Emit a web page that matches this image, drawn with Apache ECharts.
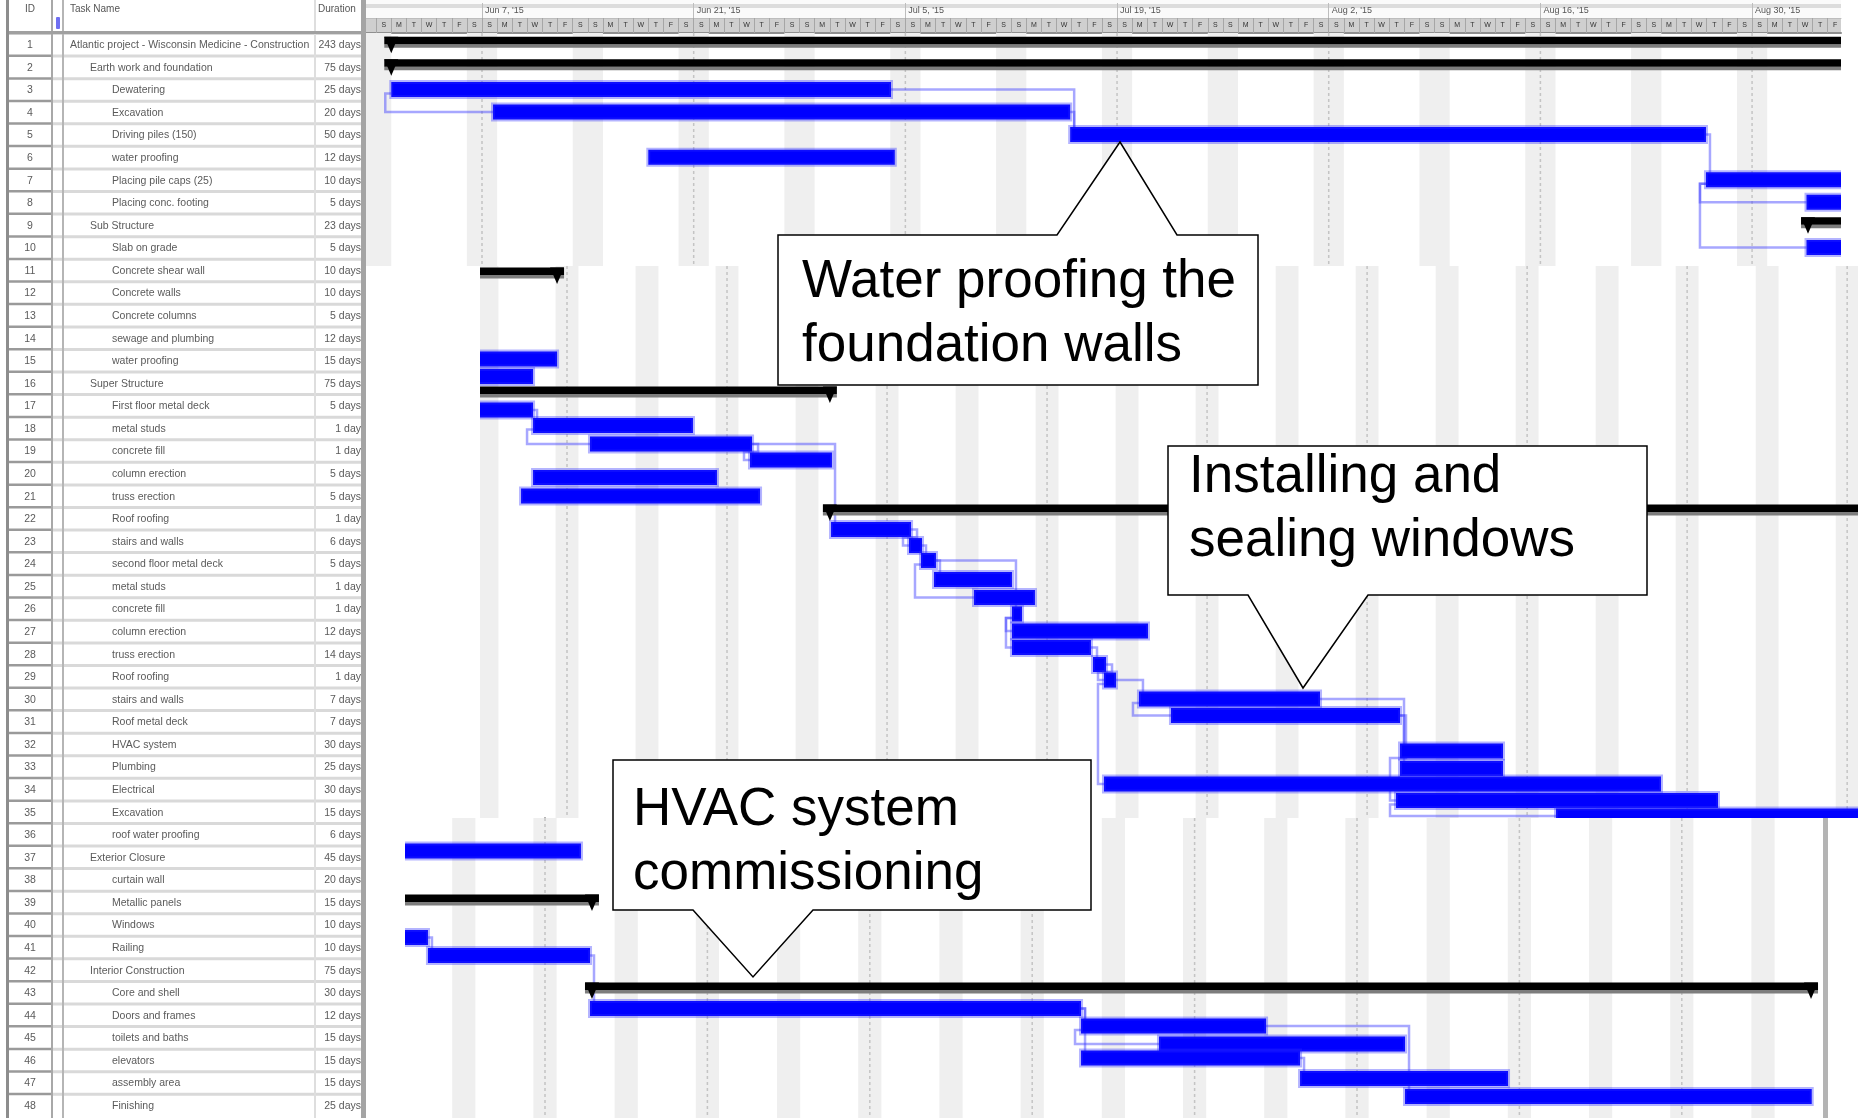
<!DOCTYPE html>
<html>
<head>
<meta charset="utf-8">
<title>Atlantic project - Gantt</title>
<script src="https://cdn.jsdelivr.net/npm/echarts@6/dist/echarts.min.js"></script>
<style>
html,body{margin:0;padding:0;background:#fff}
#chart{width:1858px;height:1118px}
</style>
</head>
<body>
<div id="chart"></div>
<script>
// ---- task table ----
var taskIds = ['1','2','3','4','5','6','7','8','9','10','11','12','13','14','15','16','17','18','19','20',
  '21','22','23','24','25','26','27','28','29','30','31','32','33','34','35','36','37','38','39','40',
  '41','42','43','44','45','46','47','48'];
var taskNames = ['Atlantic project - Wisconsin Medicine - Construction','Earth work and foundation','Dewatering','Excavation',
  'Driving piles (150)','water proofing','Placing pile caps (25)','Placing conc. footing','Sub Structure','Slab on grade',
  'Concrete shear wall','Concrete walls','Concrete columns','sewage and plumbing','water proofing','Super Structure',
  'First floor metal deck','metal studs','concrete fill','column erection','truss erection','Roof roofing',
  'stairs and walls','second floor metal deck','metal studs','concrete fill','column erection','truss erection',
  'Roof roofing','stairs and walls','Roof metal deck','HVAC system','Plumbing','Electrical','Excavation',
  'roof water proofing','Exterior Closure','curtain wall','Metallic panels','Windows','Railing',
  'Interior Construction','Core and shell','Doors and frames','toilets and baths','elevators','assembly area','Finishing'];
var taskLevels = [0,1,2,2,2,2,2,2,1,2,2,2,2,2,2,1,2,2,2,2,2,2,2,2,2,2,2,2,2,2,2,2,2,2,2,2,1,2,2,2,2,1,2,2,2,2,2,2];
var taskDurations = ['243 days','75 days','25 days','20 days','50 days','12 days','10 days','5 days','23 days','5 days',
  '10 days','10 days','5 days','12 days','15 days','75 days','5 days','1 day','1 day','5 days','5 days','1 day',
  '6 days','5 days','1 day','1 day','12 days','14 days','1 day','7 days','7 days','30 days','25 days','30 days',
  '15 days','6 days','45 days','20 days','15 days','10 days','10 days','75 days','30 days','12 days','15 days',
  '15 days','15 days','25 days'];

// ---- timescale header (top pane, day 0 = Sun Jun 7 2015) ----
var headerWeeks = [0, 14, 28, 42, 56, 70, 84];
var dayLetters = ['S','M','T','W','T','F','S'];
var monthNames = ['Jan','Feb','Mar','Apr','May','Jun','Jul','Aug','Sep','Oct','Nov','Dec'];

// ---- bars: [start day, end day, row position] ----
var topBars = [
  [-6.0, 27.05, 2.5], [0.73, 38.9, 3.5], [38.9, 80.95, 4.5], [11.0, 27.3, 5.5],
  [80.95, 95, 6.5], [87.6, 95, 7.5], [87.6, 95, 9.5]
];
var topSummaries = [[-6.0, 95, 0.36], [-6.0, 95, 1.36], [87.7, 95, 8.36]];
var topLinks = [[0,1,'SS'],[0,2,'FS'],[1,2,'FS'],[2,4,'FS'],[4,5,'SS'],[4,6,'SS']];

var midBars = [
  [-9, -0.87, 14.44], [-9, -2.97, 15.22], [-9, -2.97, 16.70], [-2.97, 11.02, 17.39],
  [2.01, 16.19, 18.21], [16.01, 23.18, 18.92], [-2.97, 13.12, 19.69], [-4.02, 16.89, 20.51],
  [23.1, 30.1, 22.0], [29.92, 31.06, 22.71], [30.97, 32.28, 23.37], [32.11, 38.93, 24.21],
  [35.61, 40.94, 25.01], [38.93, 39.81, 25.74], [38.93, 50.83, 26.5], [38.93, 45.84, 27.23],
  [46.02, 47.16, 27.98], [46.98, 48.03, 28.67], [50.04, 65.88, 29.51], [52.84, 72.88, 30.24],
  [72.88, 81.89, 31.81], [72.88, 81.89, 32.59], [46.98, 95.71, 33.27], [72.53, 100.7, 34.0],
  [86.53, 118, 34.69]
];
var midSummaries = [[-9, -0.87, 10.59], [-9, 23.0, 15.86], [23.0, 118, 21.09]];
var midLinks = [[2,3,'FS'],[3,4,'SS'],[4,5,'FS'],[4,8,'FS'],[8,9,'FS'],[9,10,'FS'],[10,11,'FS'],
  [10,12,'SS'],[10,13,'FS'],[13,14,'SS'],[13,15,'SS'],[15,16,'FS'],[16,17,'FS'],[17,18,'FS'],
  [17,22,'SS'],[18,19,'SS'],[18,20,'FS'],[19,21,'FS'],[19,23,'FS'],[23,24,'SS']];

var lowBars = [
  [-13, 3.10, 36.24], [-13, -10.09, 40.08], [-10.09, 3.88, 40.87], [3.88, 46.21, 43.22],
  [46.21, 62.16, 44.0], [52.93, 74.14, 44.79], [46.21, 65.09, 45.41], [65.09, 83.02, 46.32],
  [74.14, 109.2, 47.12]
];
var lowSummaries = [[-14, 4.05, 38.37], [4.05, 109.14, 42.27]];
var lowLinks = [[1,2,'FS'],[2,3,'FS'],[3,4,'FS'],[3,6,'FS'],[4,5,'SS'],[4,8,'FS'],[6,7,'FS']];

// ---- callouts ----
var callouts = [
  {text:'Water proofing the\nfoundation walls', pts:[[778,235],[1057,235],[1120,142],[1177,235],[1258,235],[1258,385],[778,385]], tx:802, ty:250},
  {text:'Installing and\nsealing windows', pts:[[1168,446],[1647,446],[1647,595],[1368,595],[1303,688],[1248,595],[1168,595]], tx:1189, ty:445},
  {text:'HVAC system\ncommissioning', pts:[[613,760],[1091,760],[1091,910],[813,910],[753,977],[693,910],[613,910]], tx:633, ty:778}
];

var FONT = '"Liberation Sans", Arial, sans-serif';
var ROW_H = 22.57, ROWS_TOP = 33;

var panes = [
  {left:366, right:1841, top:33, bottom:266, ppd:15.12, sunday:482, bars:topBars, sums:topSummaries, links:topLinks, xi:1, yi:1},
  {left:480, right:1858, top:266, bottom:818, ppd:11.43, sunday:567, bars:midBars, sums:midSummaries, links:midLinks, xi:3, yi:2},
  {left:405, right:1825, top:818, bottom:1118, ppd:11.6, sunday:545, bars:lowBars, sums:lowSummaries, links:lowLinks, xi:4, yi:3}
];
panes.forEach(function (p) {
  p.xMin = (p.left - p.sunday) / p.ppd;
  p.xMax = (p.right - p.sunday) / p.ppd;
  p.yMin = (p.top - ROWS_TOP) / ROW_H;
  p.yMax = (p.bottom - ROWS_TOP) / ROW_H;
});

var chart = echarts.init(document.getElementById('chart'), null, {renderer: 'canvas'});

var grids = [{left: 9, top: ROWS_TOP, width: 353, height: ROW_H * 48}];
panes.forEach(function (p) {
  grids.push({left: p.left, top: p.top, width: p.right - p.left, height: p.bottom - p.top});
});

var dayTicks = [], dayCenters = [];
for (var d = Math.ceil(panes[0].xMin); d <= Math.floor(panes[0].xMax); d++) {
  dayTicks.push(d);
  if (d + 0.5 < panes[0].xMax) dayCenters.push(d + 0.5);
}

function weekLabel(v) {
  var dt = new Date(2015, 5, 7 + Math.round(v));
  return monthNames[dt.getMonth()] + ' ' + dt.getDate() + ", '15";
}

var hidden = {show: false};
var xAxes = [
  {gridIndex: 0, type: 'value', min: 0, max: 353, show: false},
  {gridIndex: 1, type: 'value', position: 'top', min: panes[0].xMin, max: panes[0].xMax,
    axisLine: {show: true, lineStyle: {color: '#8f8f8f', width: 2}},
    axisTick: {show: true, customValues: dayTicks, length: 15, lineStyle: {color: '#a6a6a6'}},
    axisLabel: {customValues: dayCenters, margin: 4, fontSize: 7, color: '#333', fontFamily: FONT,
      formatter: function (v) { return dayLetters[((Math.floor(v) % 7) + 7) % 7]; }},
    splitLine: hidden},
  {gridIndex: 1, type: 'value', position: 'top', offset: 15, min: panes[0].xMin, max: panes[0].xMax,
    axisLine: {show: true, lineStyle: {color: '#bdbdbd', width: 1}},
    axisTick: {show: true, customValues: headerWeeks, length: 15, lineStyle: {color: '#bdbdbd'}},
    axisLabel: {customValues: headerWeeks, align: 'left', margin: 3, fontSize: 9, color: '#555',
      fontFamily: FONT, padding: [0, 0, 0, 3], formatter: weekLabel},
    splitLine: hidden},
  {gridIndex: 2, type: 'value', min: panes[1].xMin, max: panes[1].xMax, show: false},
  {gridIndex: 3, type: 'value', min: panes[2].xMin, max: panes[2].xMax, show: false}
];
var yAxes = [
  {gridIndex: 0, type: 'category', data: taskIds, inverse: true, show: false},
  {gridIndex: 1, type: 'value', inverse: true, min: panes[0].yMin, max: panes[0].yMax, position: 'right',
    axisLine: {show: true, lineStyle: {color: '#b0b0b0', width: 2}}, axisTick: hidden, axisLabel: hidden, splitLine: hidden},
  {gridIndex: 2, type: 'value', inverse: true, min: panes[1].yMin, max: panes[1].yMax, show: false},
  {gridIndex: 3, type: 'value', inverse: true, min: panes[2].yMin, max: panes[2].yMax, position: 'left',
    axisLine: {show: true, lineStyle: {color: '#9c9c9c', width: 2}}, axisTick: hidden, axisLabel: hidden, splitLine: hidden},
  {gridIndex: 3, type: 'value', inverse: true, min: panes[2].yMin, max: panes[2].yMax, position: 'right',
    axisLine: {show: true, lineStyle: {color: '#b4b4b4', width: 5}}, axisTick: hidden, axisLabel: hidden, splitLine: hidden}
];

var series = [];

// table rows
series.push({
  type: 'custom', xAxisIndex: 0, yAxisIndex: 0, z: 3,
  data: taskIds.map(function (id, i) { return [0, i]; }),
  encode: {x: 0, y: 1},
  renderItem: function (params, api) {
    var i = params.dataIndex;
    var cy = api.coord([0, i])[1];
    var h = api.size([0, 1])[1];
    var top = cy - h / 2;
    var x0 = params.coordSys.x;
    var indent = [61, 81, 103][taskLevels[i]];
    var txt = {fontSize: 10.5, fontFamily: FONT, fill: '#5a5a5a', verticalAlign: 'middle'};
    return {type: 'group', children: [
      {type: 'rect', shape: {x: x0, y: top - 1, width: 43, height: 2.5}, style: {fill: '#9a9a9a'}},
      {type: 'rect', shape: {x: x0 + 43, y: top - 1, width: 310, height: 3}, style: {fill: '#d9d9d9'}},
      {type: 'text', style: Object.assign({x: x0 + 21, y: cy + 1, text: taskIds[i], align: 'center'}, txt)},
      {type: 'text', style: Object.assign({x: x0 + indent, y: cy + 1, text: taskNames[i], align: 'left',
        width: 305 - indent, overflow: 'truncate', ellipsis: ''}, txt)},
      {type: 'text', style: Object.assign({x: x0 + 352, y: cy + 1, text: taskDurations[i], align: 'right'}, txt)}
    ]};
  }
});

function barRender(params, api) {
  var a = api.coord([api.value(0), api.value(2)]);
  var b = api.coord([api.value(1), api.value(2)]);
  return {type: 'rect', shape: {x: a[0], y: a[1] - 7.5, width: b[0] - a[0], height: 15},
    style: {fill: '#0000ff', stroke: 'rgba(40,40,255,0.35)', lineWidth: 4}};
}

function summaryRender(params, api) {
  var a = api.coord([api.value(0), api.value(2)]);
  var b = api.coord([api.value(1), api.value(2)]);
  var y = a[1];
  var w = b[0] - a[0] + 14;
  return {type: 'group', children: [
    {type: 'rect', shape: {x: a[0] - 7, y: y + 3, width: w, height: 3.5}, style: {fill: '#7d7d7d'}},
    {type: 'rect', shape: {x: a[0] - 7, y: y - 4.5, width: w, height: 7.5}, style: {fill: '#000'}},
    {type: 'polygon', shape: {points: [[a[0] - 7, y - 4.5], [a[0] + 7, y - 4.5], [a[0], y + 12]]}, style: {fill: '#000'}},
    {type: 'polygon', shape: {points: [[b[0] - 7, y - 4.5], [b[0] + 7, y - 4.5], [b[0], y + 12]]}, style: {fill: '#000'}}
  ]};
}

function linkRender(p) {
  return function (params, api) {
    var l = p.links[params.dataIndex];
    var A = p.bars[l[0]], B = p.bars[l[1]];
    var a0 = api.coord([A[0], A[2]]), a1 = api.coord([A[1], A[2]]), b0 = api.coord([B[0], B[2]]);
    var pts;
    if (l[2] === 'SS') {
      var xs = Math.min(a0[0], b0[0]) - 6;
      pts = [[a0[0], a0[1] + 4], [xs, a0[1] + 4], [xs, b0[1]], [b0[0], b0[1]]];
    } else if (b0[0] >= a1[0] - 2) {
      var xf = Math.max(a1[0], b0[0]) + 4;
      pts = [[a1[0], a1[1]], [xf, a1[1]], [xf, b0[1] - 7]];
    } else {
      var mid = (a1[1] + b0[1]) / 2;
      pts = [[a1[0], a1[1]], [a1[0] + 6, a1[1]], [a1[0] + 6, mid], [b0[0] - 6, mid], [b0[0] - 6, b0[1]], [b0[0], b0[1]]];
    }
    return {type: 'polyline', shape: {points: pts}, style: {stroke: 'rgba(60,60,255,0.45)', lineWidth: 2.5, fill: null}};
  };
}

panes.forEach(function (p) {
  var weekends = [], fortnights = [];
  for (var s = Math.floor((p.xMin + 1) / 7) * 7 - 1; s < p.xMax; s += 7) weekends.push([s]);
  for (var f = Math.ceil(p.xMin / 14) * 14; f < p.xMax; f += 14) fortnights.push([f]);
  var ax = {xAxisIndex: p.xi, yAxisIndex: p.yi, clip: true, silent: true};

  series.push(Object.assign({type: 'custom', z: 1, data: weekends, encode: {x: 0},
    renderItem: function (params, api) {
      var a = api.coord([api.value(0), p.yMin]);
      var b = api.coord([api.value(0) + 2, p.yMin]);
      var cs = params.coordSys;
      return {type: 'rect', shape: {x: a[0], y: cs.y, width: b[0] - a[0], height: cs.height}, style: {fill: '#efefef'}};
    }}, ax));
  series.push(Object.assign({type: 'custom', z: 1, data: fortnights, encode: {x: 0},
    renderItem: function (params, api) {
      var a = api.coord([api.value(0), p.yMin]);
      var cs = params.coordSys;
      return {type: 'line', shape: {x1: a[0], y1: cs.y, x2: a[0], y2: cs.y + cs.height},
        style: {stroke: '#c4c4c4', lineWidth: 1.5, lineDash: [3, 3]}};
    }}, ax));
  series.push(Object.assign({type: 'custom', z: 2, data: p.links.map(function (l) { return [l[0], l[1]]; }),
    encode: {x: 0, y: 1}, renderItem: linkRender(p)}, ax));
  series.push(Object.assign({type: 'custom', z: 3, data: p.bars, encode: {x: [0, 1], y: 2}, renderItem: barRender}, ax));
  series.push(Object.assign({type: 'custom', z: 4, data: p.sums, encode: {x: [0, 1], y: 2}, renderItem: summaryRender}, ax));
});

// table frame, header and callouts
var graphics = [
  {type: 'rect', shape: {x: 366, y: 0, width: 1475, height: 18}, style: {fill: '#fafafa'}, z: -1},
  {type: 'rect', shape: {x: 366, y: 4, width: 1475, height: 4}, style: {fill: '#dcdcdc'}, z: -1},
  {type: 'rect', shape: {x: 366, y: 18, width: 1475, height: 15}, style: {fill: '#cfcfcf'}, z: -1},
  {type: 'rect', shape: {x: 6, y: 0, width: 3, height: 1118}, style: {fill: '#8d8d8d'}, z: 10},
  {type: 'rect', shape: {x: 51, y: 0, width: 2, height: 1118}, style: {fill: '#a8a8a8'}, z: 10},
  {type: 'rect', shape: {x: 62, y: 0, width: 2, height: 1118}, style: {fill: '#b5b5b5'}, z: 10},
  {type: 'rect', shape: {x: 314, y: 0, width: 2, height: 1118}, style: {fill: '#dedede'}, z: 10},
  {type: 'rect', shape: {x: 361, y: 0, width: 5, height: 1118}, style: {fill: '#a4a4a4'}, z: 10},
  {type: 'rect', shape: {x: 9, y: 31, width: 352, height: 3}, style: {fill: '#a0a0a0'}, z: 10},
  {type: 'rect', shape: {x: 56, y: 17, width: 4, height: 12, r: 1}, style: {fill: '#6f6ff2'}, z: 10},
  {type: 'text', x: 30, y: 4, style: {text: 'ID', fontSize: 10, fontFamily: FONT, fill: '#555', align: 'center', verticalAlign: 'top'}, z: 10},
  {type: 'text', x: 70, y: 4, style: {text: 'Task Name', fontSize: 10, fontFamily: FONT, fill: '#555', verticalAlign: 'top'}, z: 10},
  {type: 'text', x: 318, y: 4, style: {text: 'Duration', fontSize: 10, fontFamily: FONT, fill: '#555', verticalAlign: 'top'}, z: 10}
];
callouts.forEach(function (c) {
  graphics.push({type: 'polygon', shape: {points: c.pts}, style: {fill: '#fff', stroke: '#000', lineWidth: 1.5}, z: 100});
  graphics.push({type: 'text', x: c.tx, y: c.ty, style: {text: c.text, fontSize: 53, fontFamily: FONT, lineHeight: 64,
    fill: '#000', align: 'left', verticalAlign: 'top'}, z: 101});
});

chart.setOption({
  animation: false,
  backgroundColor: '#ffffff',
  grid: grids,
  xAxis: xAxes,
  yAxis: yAxes,
  series: series,
  graphic: {elements: graphics}
});
</script>
</body>
</html>
